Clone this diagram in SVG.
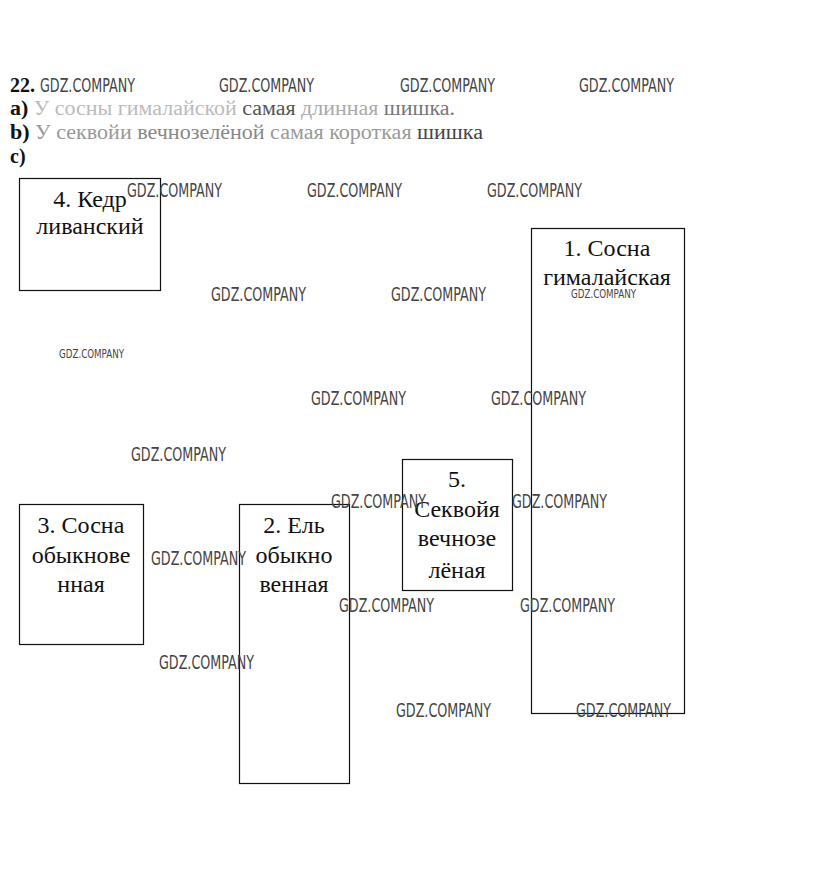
<svg xmlns="http://www.w3.org/2000/svg" width="815" height="879" viewBox="0 0 815 879">
<style>
.bg{fill:#fff}
.box{fill:none;stroke:#111;stroke-width:1.2}
.lbl{font-family:"Liberation Serif","Times New Roman",serif;font-size:24px;fill:#111;text-anchor:middle}
.hd{font-family:"Liberation Serif","Times New Roman",serif;font-size:20px;fill:#111}
.b{font-weight:bold}
.wm{font-family:"Liberation Sans Narrow","DejaVu Sans Condensed","Liberation Sans",sans-serif;font-size:20px;fill:#444}
.wms{font-family:"Liberation Sans Narrow","DejaVu Sans Condensed","Liberation Sans",sans-serif;font-size:13px;fill:#444}
</style>
<rect class="bg" x="0" y="0" width="815" height="879"/>
<g id="header" font-family="'Liberation Serif','Times New Roman',serif">
<text class="hd b" x="10" y="92">22.</text>
<text class="hd" x="10" y="115" textLength="445" lengthAdjust="spacingAndGlyphs"><tspan class="b">a)</tspan><tspan fill="#bbb"> У сосны гималайской</tspan><tspan fill="#555"> самая</tspan><tspan fill="#aaa"> длинная</tspan><tspan fill="#777"> шишка.</tspan></text>
<text class="hd" x="10" y="139" textLength="473" lengthAdjust="spacingAndGlyphs"><tspan class="b">b)</tspan><tspan fill="#999"> У секвойи</tspan><tspan fill="#888"> вечнозелёной</tspan><tspan fill="#999"> самая короткая</tspan><tspan fill="#444"> шишка</tspan></text>
<text class="hd b" x="10" y="163">c)</text>
</g>
<g id="node1">
<rect class="box" x="531.5" y="228.5" width="153" height="485"/>
<text class="lbl" x="607" y="256">1. Сосна</text>
<text class="lbl" x="607" y="285">гималайская</text>
</g>
<g id="node2">
<rect class="box" x="239.5" y="504.5" width="110" height="279"/>
<text class="lbl" x="294" y="533">2. Ель</text>
<text class="lbl" x="294" y="563">обыкно</text>
<text class="lbl" x="294" y="592">венная</text>
</g>
<g id="node3">
<rect class="box" x="19.5" y="504.5" width="124" height="140"/>
<text class="lbl" x="81" y="533">3. Сосна</text>
<text class="lbl" x="81" y="563">обыкнове</text>
<text class="lbl" x="81" y="592">нная</text>
</g>
<g id="node4">
<rect class="box" x="19.5" y="178.5" width="141" height="112"/>
<text class="lbl" x="90" y="207">4. Кедр</text>
<text class="lbl" x="90" y="234">ливанский</text>
</g>
<g id="node5">
<rect class="box" x="402.5" y="459.5" width="110" height="131"/>
<text class="lbl" x="457" y="487">5.</text>
<text class="lbl" x="457" y="517">Секвойя</text>
<text class="lbl" x="457" y="546">вечнозе</text>
<text class="lbl" x="457" y="578">лёная</text>
</g>
<g id="connectors"></g>
<g id="watermarks">
<text class="wm" x="40" y="92" textLength="95" lengthAdjust="spacingAndGlyphs">GDZ.COMPANY</text>
<text class="wm" x="219" y="92" textLength="95" lengthAdjust="spacingAndGlyphs">GDZ.COMPANY</text>
<text class="wm" x="400" y="92" textLength="95" lengthAdjust="spacingAndGlyphs">GDZ.COMPANY</text>
<text class="wm" x="579" y="92" textLength="95" lengthAdjust="spacingAndGlyphs">GDZ.COMPANY</text>
<text class="wm" x="127" y="197" textLength="95" lengthAdjust="spacingAndGlyphs">GDZ.COMPANY</text>
<text class="wm" x="307" y="197" textLength="95" lengthAdjust="spacingAndGlyphs">GDZ.COMPANY</text>
<text class="wm" x="487" y="197" textLength="95" lengthAdjust="spacingAndGlyphs">GDZ.COMPANY</text>
<text class="wm" x="211" y="301" textLength="95" lengthAdjust="spacingAndGlyphs">GDZ.COMPANY</text>
<text class="wm" x="391" y="301" textLength="95" lengthAdjust="spacingAndGlyphs">GDZ.COMPANY</text>
<text class="wms" x="59" y="358" textLength="65" lengthAdjust="spacingAndGlyphs">GDZ.COMPANY</text>
<text class="wms" x="571" y="298" textLength="65" lengthAdjust="spacingAndGlyphs">GDZ.COMPANY</text>
<text class="wm" x="311" y="405" textLength="95" lengthAdjust="spacingAndGlyphs">GDZ.COMPANY</text>
<text class="wm" x="491" y="405" textLength="95" lengthAdjust="spacingAndGlyphs">GDZ.COMPANY</text>
<text class="wm" x="131" y="461" textLength="95" lengthAdjust="spacingAndGlyphs">GDZ.COMPANY</text>
<text class="wm" x="331" y="508" textLength="95" lengthAdjust="spacingAndGlyphs">GDZ.COMPANY</text>
<text class="wm" x="512" y="508" textLength="95" lengthAdjust="spacingAndGlyphs">GDZ.COMPANY</text>
<text class="wm" x="151" y="565" textLength="95" lengthAdjust="spacingAndGlyphs">GDZ.COMPANY</text>
<text class="wm" x="339" y="612" textLength="95" lengthAdjust="spacingAndGlyphs">GDZ.COMPANY</text>
<text class="wm" x="520" y="612" textLength="95" lengthAdjust="spacingAndGlyphs">GDZ.COMPANY</text>
<text class="wm" x="159" y="669" textLength="95" lengthAdjust="spacingAndGlyphs">GDZ.COMPANY</text>
<text class="wm" x="396" y="717" textLength="95" lengthAdjust="spacingAndGlyphs">GDZ.COMPANY</text>
<text class="wm" x="576" y="717" textLength="95" lengthAdjust="spacingAndGlyphs">GDZ.COMPANY</text>
</g>
</svg>
